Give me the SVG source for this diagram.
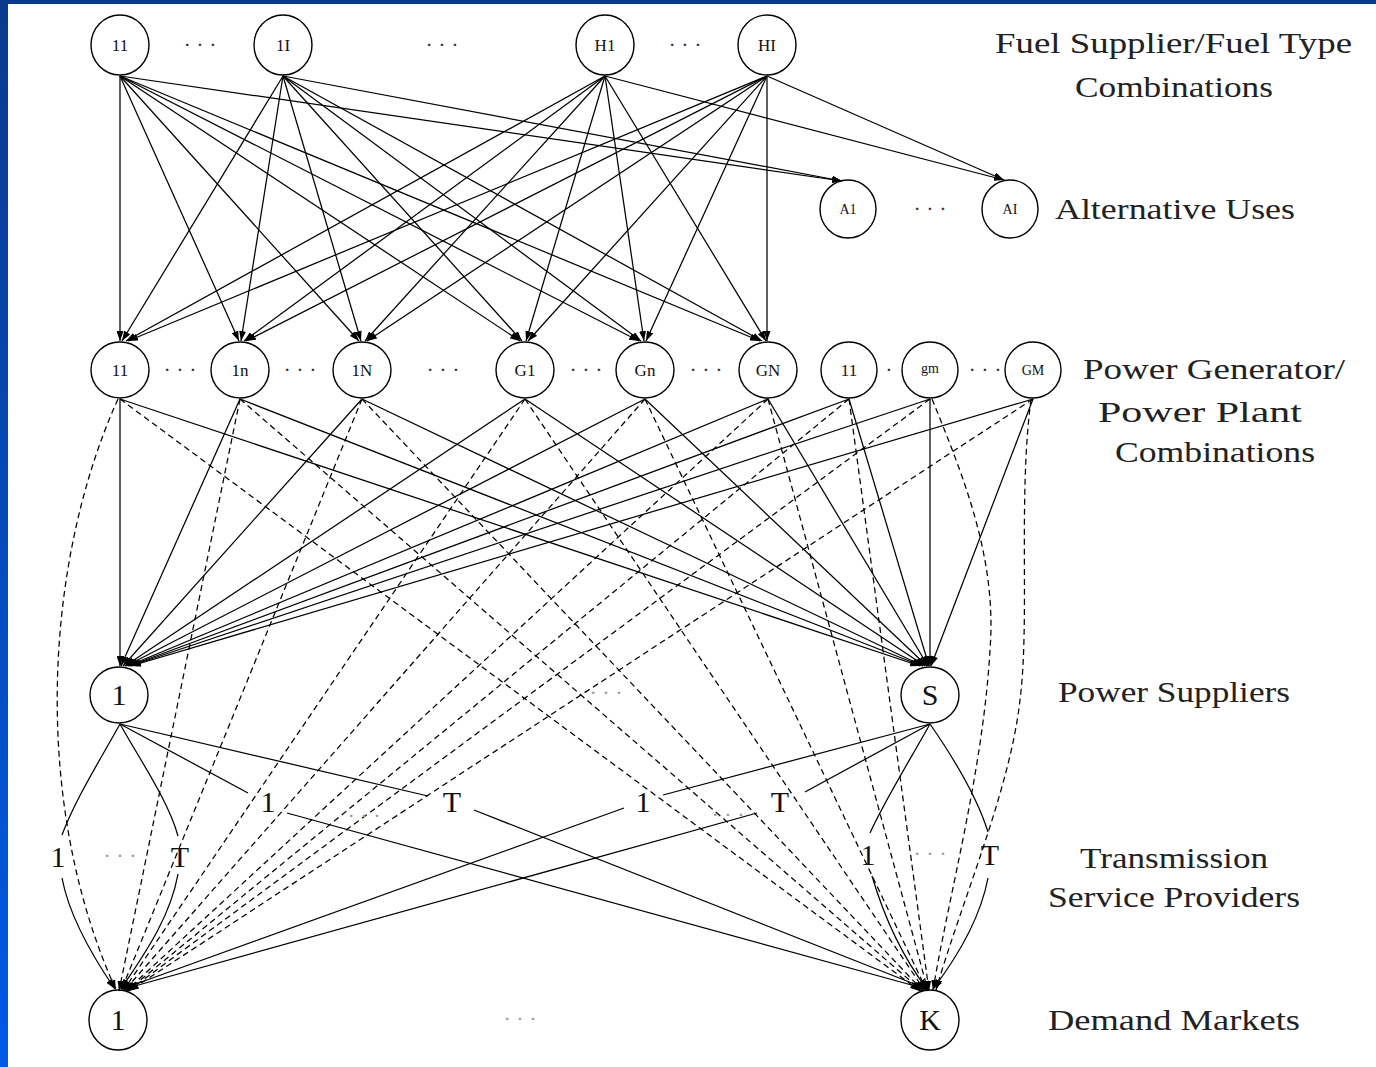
<svg xmlns="http://www.w3.org/2000/svg" width="1376" height="1067" viewBox="0 0 1376 1067">
<defs>
<linearGradient id="blueL" x1="0" y1="0" x2="0" y2="1">
<stop offset="0" stop-color="#0a3a8c"/>
<stop offset="1" stop-color="#005ae6"/>
</linearGradient>
<marker id="ah" viewBox="0 0 10 7" refX="10" refY="3.5" markerWidth="10" markerHeight="7" markerUnits="userSpaceOnUse" orient="auto">
<path d="M0,0 L10,3.5 L0,7 z" fill="#000"/>
</marker>
<style>
.e{fill:none;stroke:#000;stroke-width:1.25;marker-end:url(#ah)}
.d{fill:none;stroke:#000;stroke-width:1.25;stroke-dasharray:6 4;marker-end:url(#ah)}
.t{fill:none;stroke:#000;stroke-width:1.25}
.c{fill:none;stroke:#000;stroke-width:1.4}
.sm{font-family:"Liberation Serif","DejaVu Serif",serif;font-size:17px;fill:#111;text-anchor:middle}
.xs{font-family:"Liberation Serif","DejaVu Serif",serif;font-size:14px;fill:#111;text-anchor:middle}
.big{font-family:"Liberation Serif","DejaVu Serif",serif;font-size:30px;fill:#111;text-anchor:middle}
.lab{font-family:"Liberation Serif","DejaVu Serif",serif;font-size:30px;fill:#222}
.dots{font-family:"Liberation Serif","DejaVu Serif",serif;font-size:22px;fill:#333;text-anchor:middle}
.gdots{font-family:"Liberation Serif","DejaVu Serif",serif;font-size:22px;fill:#999;text-anchor:middle}
</style>
</defs>
<rect x="0" y="0" width="1376" height="1067" fill="#fff"/>
<rect x="0" y="0" width="1376" height="4" fill="#0a3a8c"/>
<rect x="0" y="0" width="8" height="1067" fill="url(#blueL)"/>

<g id="connectors">
<g id="fuel-to-generator">
<path class="e" d="M120,76 L120,341"/>
<path class="e" d="M120,76 L239,341"/>
<path class="e" d="M120,76 L359,341"/>
<path class="e" d="M120,76 L520,341"/>
<path class="e" d="M120,76 L639,341"/>
<path class="e" d="M120,76 L760,341"/>
<path class="e" d="M120,76 L842,181"/>
<path class="e" d="M283,76 L122,341"/>
<path class="e" d="M283,76 L241,341"/>
<path class="e" d="M283,76 L361,341"/>
<path class="e" d="M283,76 L522,341"/>
<path class="e" d="M283,76 L641,341"/>
<path class="e" d="M283,76 L762,341"/>
<path class="e" d="M283,76 L842,181"/>
<path class="e" d="M605,76 L126,341"/>
<path class="e" d="M605,76 L244,341"/>
<path class="e" d="M605,76 L365,341"/>
<path class="e" d="M605,76 L526,341"/>
<path class="e" d="M605,76 L644,341"/>
<path class="e" d="M605,76 L766,341"/>
<path class="e" d="M605,76 L1004,180"/>
<path class="e" d="M767,76 L128,341"/>
<path class="e" d="M767,76 L246,341"/>
<path class="e" d="M767,76 L367,341"/>
<path class="e" d="M767,76 L528,341"/>
<path class="e" d="M767,76 L646,341"/>
<path class="e" d="M767,76 L767,341"/>
<path class="e" d="M767,76 L1004,180"/>
</g>
<g id="generator-to-supplier">
<path class="e" d="M120,399 L120,666"/>
<path class="e" d="M240,399 L121,666"/>
<path class="e" d="M362,399 L123,666"/>
<path class="e" d="M525,399 L125,666"/>
<path class="e" d="M645,399 L126,666"/>
<path class="e" d="M768,399 L128,666"/>
<path class="e" d="M849,399 L129,666"/>
<path class="e" d="M930,399 L130,666"/>
<path class="e" d="M1033,399 L131,666"/>
<path class="e" d="M120,399 L920,666"/>
<path class="e" d="M240,399 L922,666"/>
<path class="e" d="M362,399 L923,666"/>
<path class="e" d="M525,399 L925,666"/>
<path class="e" d="M645,399 L927,666"/>
<path class="e" d="M768,399 L928,666"/>
<path class="e" d="M849,399 L929,666"/>
<path class="e" d="M930,399 L930,666"/>
<path class="e" d="M1033,399 L931,666"/>
</g>
<g id="generator-to-demand">
<path class="d" d="M118,399 C45,560 30,800 116,990"/>
<path class="d" d="M240,399 L119,991"/>
<path class="d" d="M362,399 L121,991"/>
<path class="d" d="M525,399 L123,991"/>
<path class="d" d="M645,399 L124,991"/>
<path class="d" d="M768,399 L126,991"/>
<path class="d" d="M849,399 L127,991"/>
<path class="d" d="M930,399 L128,991"/>
<path class="d" d="M1033,399 L129,991"/>
<path class="d" d="M120,399 L920,991"/>
<path class="d" d="M240,399 L922,991"/>
<path class="d" d="M362,399 L923,991"/>
<path class="d" d="M525,399 L925,991"/>
<path class="d" d="M645,399 L927,991"/>
<path class="d" d="M768,399 L928,991"/>
<path class="d" d="M849,399 L929,991"/>
<path class="d" d="M932,399 C965,480 997,560 990,650 C983,770 950,890 933,990"/>
<path class="d" d="M1031,399 C1018,500 1030,620 1020,700 C1010,790 962,900 936,990"/>
</g>
<g id="supplier-to-transmission">
<path class="t" d="M120,724 C100,760 75,800 62,835"/>
<path class="t" d="M120,724 C140,760 168,800 178,836"/>
<path class="t" d="M120,724 L248,793"/>
<path class="t" d="M120,724 L428,796"/>
<path class="t" d="M930,724 L663,795"/>
<path class="t" d="M930,724 L805,792"/>
<path class="t" d="M930,724 C910,760 885,800 870,833"/>
<path class="t" d="M930,724 C955,760 978,800 988,832"/>
</g>
<g id="transmission-to-demand">
<path class="e" d="M62,878 C70,920 95,960 115,989"/>
<path class="e" d="M178,874 C170,920 140,960 121,989"/>
<path class="e" d="M287,813 L926,989"/>
<path class="e" d="M474,810 L927,989"/>
<path class="e" d="M624,808 L122,989"/>
<path class="e" d="M757,813 L124,989"/>
<path class="e" d="M872,876 C885,920 905,960 927,989"/>
<path class="e" d="M988,878 C980,920 955,960 933,989"/>
</g>
</g>

<g id="fuel-11"><ellipse class="c" cx="120" cy="45" rx="29" ry="30"/><text class="sm" x="120" y="51">11</text></g>
<g id="fuel-1I"><ellipse class="c" cx="283" cy="45" rx="29" ry="30"/><text class="sm" x="283" y="51">1I</text></g>
<g id="fuel-H1"><ellipse class="c" cx="605" cy="45" rx="29" ry="30"/><text class="sm" x="605" y="51">H1</text></g>
<g id="fuel-HI"><ellipse class="c" cx="767" cy="45" rx="29" ry="30"/><text class="sm" x="767" y="51">HI</text></g>
<text class="dots" x="200" y="52">· · ·</text>
<text class="dots" x="442" y="52">· · ·</text>
<text class="dots" x="685" y="52">· · ·</text>

<g id="alt-A1"><ellipse class="c" cx="848" cy="209" rx="28" ry="29"/><text class="xs" x="848" y="214">A1</text></g>
<g id="alt-AI"><ellipse class="c" cx="1010" cy="209" rx="28" ry="29"/><text class="xs" x="1010" y="214">AI</text></g>
<text class="dots" x="930" y="216">· · ·</text>

<g id="gen-11"><ellipse class="c" cx="120" cy="370" rx="29" ry="28"/><text class="sm" x="120" y="376">11</text></g>
<g id="gen-1n"><ellipse class="c" cx="240" cy="370" rx="29" ry="28"/><text class="sm" x="240" y="376">1n</text></g>
<g id="gen-1N"><ellipse class="c" cx="362" cy="370" rx="29" ry="28"/><text class="sm" x="362" y="376">1N</text></g>
<g id="gen-G1"><ellipse class="c" cx="525" cy="370" rx="29" ry="28"/><text class="sm" x="525" y="376">G1</text></g>
<g id="gen-Gn"><ellipse class="c" cx="645" cy="370" rx="29" ry="28"/><text class="sm" x="645" y="376">Gn</text></g>
<g id="gen-GN"><ellipse class="c" cx="768" cy="370" rx="29" ry="28"/><text class="sm" x="768" y="376">GN</text></g>
<g id="plant-11"><ellipse class="c" cx="849" cy="370" rx="28" ry="28"/><text class="sm" x="849" y="376">11</text></g>
<g id="plant-gm"><ellipse class="c" cx="930" cy="370" rx="28" ry="28"/><text class="xs" x="930" y="373">gm</text></g>
<g id="plant-GM"><ellipse class="c" cx="1033" cy="370" rx="28" ry="28"/><text class="xs" x="1033" y="375">GM</text></g>
<text class="dots" x="180" y="377">· · ·</text>
<text class="dots" x="300" y="377">· · ·</text>
<text class="dots" x="443" y="377">· · ·</text>
<text class="dots" x="586" y="377">· · ·</text>
<text class="dots" x="706" y="377">· · ·</text>
<text class="dots" x="889" y="377">·</text>
<text class="dots" x="985" y="377">· · ·</text>

<g id="sup-1"><ellipse class="c" cx="119" cy="695" rx="29" ry="28"/><text class="big" x="119" y="705">1</text></g>
<g id="sup-S"><ellipse class="c" cx="930" cy="695" rx="29" ry="28"/><text class="big" x="930" y="705">S</text></g>
<text class="gdots" x="606" y="700">· · ·</text>

<g id="tsp-a">
<text class="big" x="58" y="867">1</text>
<text class="gdots" x="120" y="863">· · ·</text>
<text class="big" x="180" y="867">T</text>
</g>
<g id="tsp-b">
<text class="big" x="268" y="812">1</text>
<text class="gdots" x="364" y="823">· · ·</text>
<text class="big" x="452" y="812">T</text>
</g>
<g id="tsp-c">
<text class="big" x="643" y="812">1</text>
<text class="gdots" x="728" y="822">· · ·</text>
<text class="big" x="780" y="812">T</text>
</g>
<g id="tsp-d">
<text class="big" x="868" y="865">1</text>
<text class="gdots" x="930" y="861">· · ·</text>
<text class="big" x="990" y="865">T</text>
</g>

<g id="dem-1"><ellipse class="c" cx="118" cy="1020" rx="29" ry="30"/><text class="big" x="118" y="1030">1</text></g>
<g id="dem-K"><ellipse class="c" cx="930" cy="1020" rx="29" ry="30"/><text class="big" x="930" y="1030">K</text></g>
<text class="gdots" x="520" y="1026">· · ·</text>

<g id="labels">
<text class="lab" x="995" y="53" textLength="357" lengthAdjust="spacingAndGlyphs">Fuel Supplier/Fuel Type</text>
<text class="lab" x="1075" y="97" textLength="198" lengthAdjust="spacingAndGlyphs">Combinations</text>
<text class="lab" x="1055" y="219" textLength="240" lengthAdjust="spacingAndGlyphs">Alternative Uses</text>
<text class="lab" x="1083" y="379" textLength="262" lengthAdjust="spacingAndGlyphs">Power Generator/</text>
<text class="lab" x="1098" y="422" textLength="204" lengthAdjust="spacingAndGlyphs">Power Plant</text>
<text class="lab" x="1115" y="462" textLength="200" lengthAdjust="spacingAndGlyphs">Combinations</text>
<text class="lab" x="1058" y="702" textLength="232" lengthAdjust="spacingAndGlyphs">Power Suppliers</text>
<text class="lab" x="1080" y="868" textLength="188" lengthAdjust="spacingAndGlyphs">Transmission</text>
<text class="lab" x="1048" y="907" textLength="252" lengthAdjust="spacingAndGlyphs">Service Providers</text>
<text class="lab" x="1048" y="1030" textLength="252" lengthAdjust="spacingAndGlyphs">Demand Markets</text>
</g>
</svg>
